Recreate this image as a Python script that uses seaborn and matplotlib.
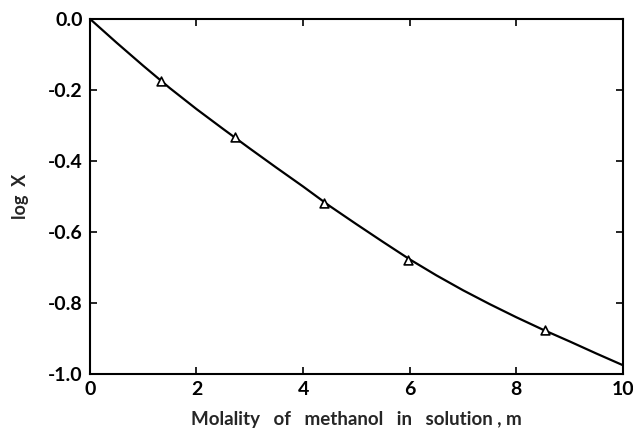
import pandas as pd
import matplotlib
matplotlib.use("Agg")
import matplotlib.pyplot as plt
import seaborn as sns

# Points mesurés (triangles)
molalite = [1.33, 2.72, 4.39, 5.97, 8.54]
log_x = [-0.175, -0.333, -0.518, -0.679, -0.876]

# Courbe lissée
courbe_m = [0, 0.5, 1, 1.5, 2, 2.5, 3, 3.5, 4, 4.5, 5,
            5.5, 6, 6.5, 7, 7.5, 8, 8.5, 9, 9.5, 10]
courbe_y = [0.0, -0.067, -0.132, -0.195, -0.254, -0.310, -0.365, -0.419, -0.472, -0.527, -0.578,
            -0.628, -0.677, -0.722, -0.764, -0.803, -0.840, -0.875, -0.908, -0.942, -0.975]

x_ticks = [0, 2, 4, 6, 8, 10]
x_labels = ["0", "2", "4", "6", "8", "10"]
y_ticks = [0.0, -0.2, -0.4, -0.6, -0.8, -1.0]
y_labels = ["0.0", "-0.2", "-0.4", "-0.6", "-0.8", "-1.0"]

df_pts = pd.DataFrame({"m": molalite, "logx": log_x})
df_curve = pd.DataFrame({"m": courbe_m, "logx": courbe_y})

sns.set_style("ticks")
plt.rcParams["font.family"] = ["Lato", "DejaVu Sans"]
plt.rcParams["font.weight"] = "bold"

fig = plt.figure(figsize=(6.33, 4.28), dpi=100)
ax = fig.add_axes([0.142, 0.126, 0.842, 0.830])

sns.lineplot(data=df_curve, x="m", y="logx", color="black", linewidth=1.6, ax=ax)
sns.scatterplot(data=df_pts, x="m", y="logx", marker="^", s=40, facecolor="white",
                edgecolor="black", linewidth=1.2, zorder=3, ax=ax)

ax.set_xlim(0, 10)
ax.set_ylim(-1.0, 0.0)
ax.set_xticks(x_ticks)
ax.set_xticklabels(x_labels)
ax.set_yticks(y_ticks)
ax.set_yticklabels(y_labels)
ax.tick_params(direction="in", top=True, right=True, length=5, width=1.2,
               labelsize=14, pad=5, colors="black")
for sp in ax.spines.values():
    sp.set_linewidth(1.5)
    sp.set_color("black")

ax.set_xlabel("Molality   of   methanol   in   solution , m", fontsize=13.5,
              fontweight="bold", labelpad=9)
ax.set_ylabel("log  X", fontsize=13, fontweight="bold", labelpad=14)

fig.savefig("out.png", dpi=100)
